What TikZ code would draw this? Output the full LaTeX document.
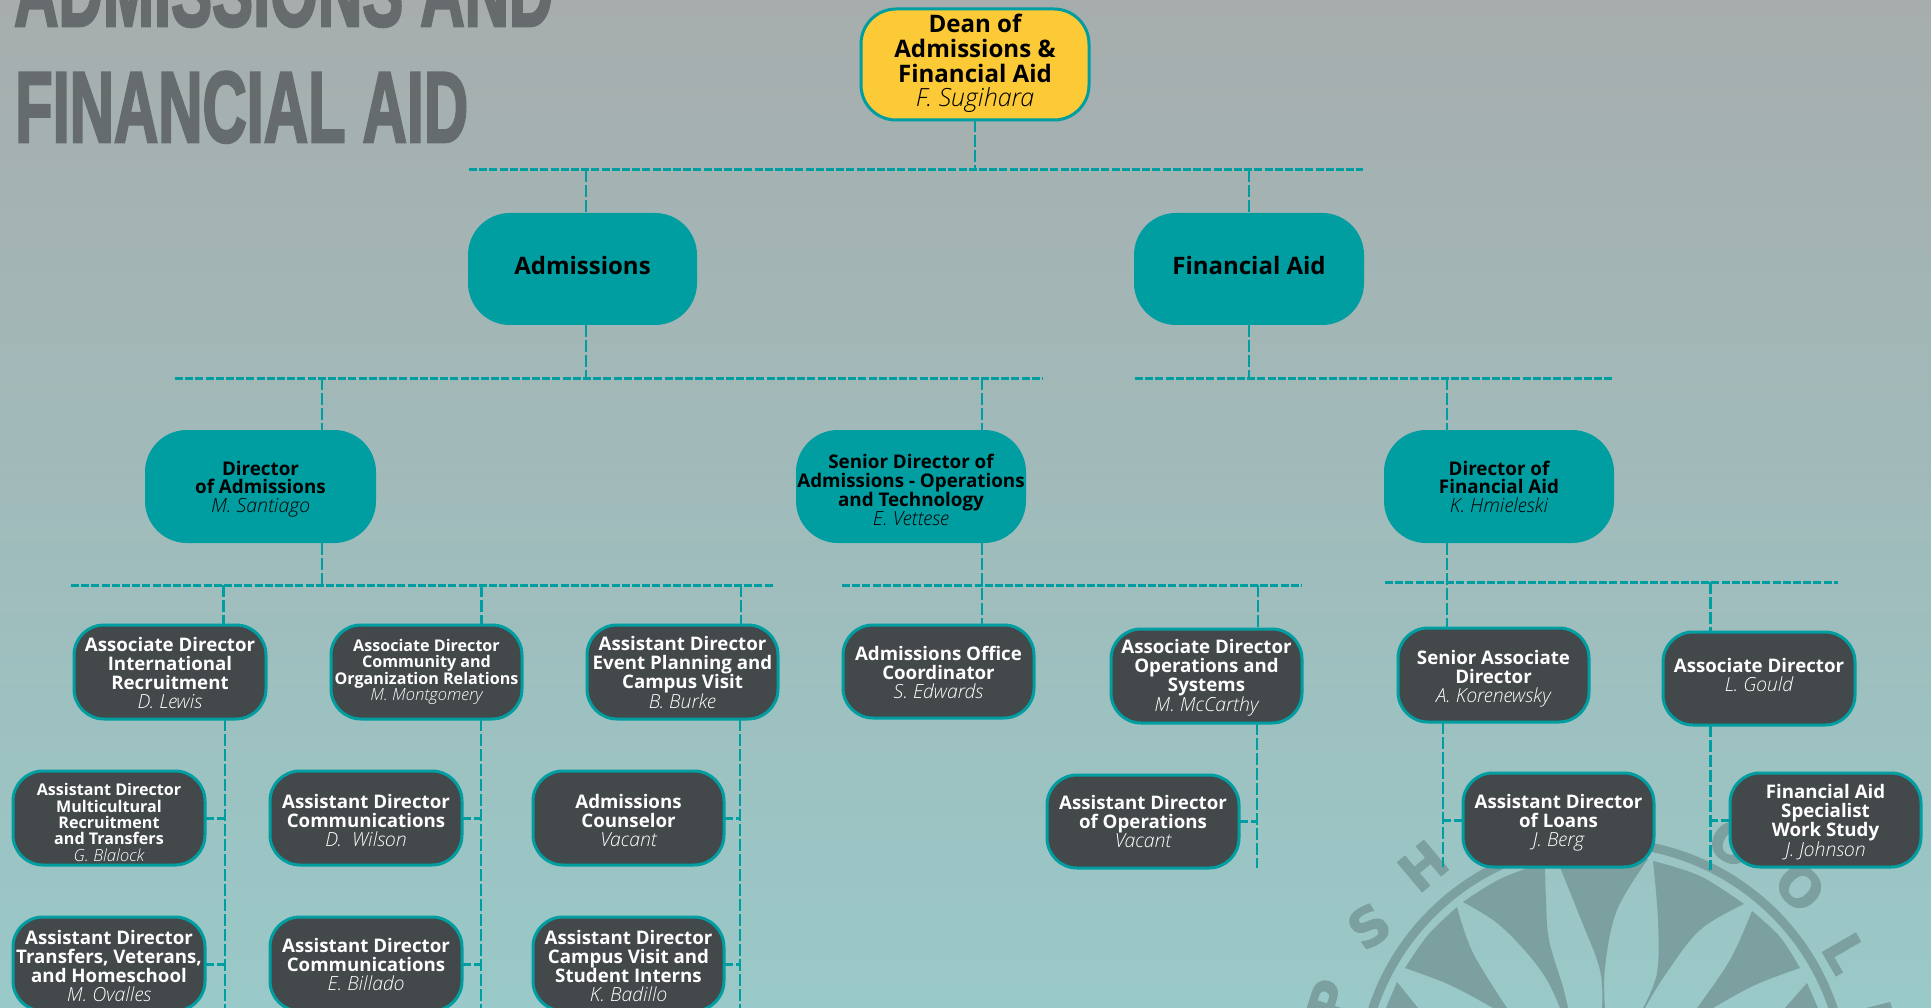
\documentclass[tikz,border=0pt]{standalone}
\usepackage{fontspec}
\setmainfont{Open Sans}[ItalicFont={Open Sans Light Italic},ItalicFeatures={Scale=1.04}]
\newfontfamily\titlefont{Liberation Sans Bold}[FakeBold=3]
\newfontfamily\sealfont{DejaVu Sans Bold}[FakeBold=1.5]
\definecolor{bgtop}{RGB}{167,173,173}
\definecolor{bgbot}{RGB}{153,201,200}
\definecolor{tealc}{RGB}{0,157,161}
\definecolor{darkc}{RGB}{67,72,75}
\definecolor{goldc}{RGB}{252,202,54}
\definecolor{sealc}{RGB}{124,159,159}
\definecolor{titlec}{RGB}{102,108,110}
\tikzset{
  x=1pt,y=-1pt,
  basebox/.style={rectangle,align=center,inner sep=0pt,outer sep=0pt,text centered},
  deanbox/.style={basebox,draw=tealc,line width=3pt,fill=goldc,rounded corners=35pt,text=black,font=\fontsize{24.1}{24.7}\selectfont\bfseries},
  unitbox/.style={basebox,fill=tealc,rounded corners=42pt,text=black,font=\fontsize{24}{24}\selectfont\bfseries},
  dirbox/.style={basebox,fill=tealc,rounded corners=42pt,text=black,font=\fontsize{18.8}{18.5}\selectfont\bfseries},
  staffbox/.style={basebox,draw=tealc,line width=3pt,fill=darkc,rounded corners=30pt,text=white,font=\fontsize{18.7}{19}\selectfont\bfseries},
  smallbox/.style={staffbox,font=\fontsize{16.1}{16.3}\selectfont\bfseries},
  hbar/.style={draw=tealc,line width=3pt,dash pattern=on 8pt off 2.2pt},
  vbar/.style={draw=tealc,line width=2.5pt,dash pattern=on 12pt off 3pt},
  stub/.style={draw=tealc,line width=3pt,dash pattern=on 9pt off 3pt},
  seal/.style={fill=sealc,draw=none},
  sealtext/.style={text=sealc,inner sep=0pt,font=\sealfont\fontsize{53}{53}\selectfont},
}
\newcommand{\nm}[1]{{\mdseries\itshape #1}}
% move a box's text down or up by making its first line taller or its last line deeper
\newcommand{\dn}[1]{\rule{0pt}{\dimexpr\fontcharht\font`d+2\dimexpr#1pt\relax\relax}}
\newcommand{\up}[1]{\rule[-\dimexpr\fontchardp\font`g+2\dimexpr#1pt\relax\relax]{0pt}{0pt}}
\newcommand{\obox}[7]{%
  \pgfmathsetmacro\cxx{(#3+#5)/2}\pgfmathsetmacro\cyy{(#4+#6)/2}%
  \pgfmathsetmacro\www{#5-#3}\pgfmathsetmacro\hhh{#6-#4}%
  \node[#1,minimum width=\www pt,minimum height=\hhh pt] (#2) at (\cxx,\cyy) {#7};}
\begin{document}
\begin{tikzpicture}
\useasboundingbox (0,0) rectangle (1931,1008);
\clip (0,0) rectangle (1931,1008);
\shade[top color=bgtop,bottom color=bgbot,middle color=bgtop!50!bgbot] (0,0) rectangle (1931,1008);

% seal
\draw[draw=sealc,line width=9pt] (1603,1085) circle [radius=242.5];
\fill[seal] plot[smooth,tension=.6] coordinates {(1463,902)(1500,879)(1545,862)} -- plot[smooth,tension=.6] coordinates {(1545,862)(1546,900)(1549,940)(1563,987)(1568,1008)} -- plot[smooth,tension=.6] coordinates {(1560,1008)(1547,980)(1527,953)(1497,923)(1463,902)} -- cycle;
\fill[seal] plot[smooth,tension=.6] coordinates {(1457,907)(1428,935)(1405,968)} -- plot[smooth,tension=.6] coordinates {(1405,968)(1450,985)(1493,1008)} -- plot[smooth,tension=.6] coordinates {(1507,1008)(1473,953)(1457,907)} -- cycle;
\fill[seal] (1397,982) -- (1386,1008) -- (1418,1008) -- cycle;
\fill[seal] plot[smooth,tension=.6] coordinates {(1557,860)(1603,855)(1648,859)} -- plot[smooth,tension=.6] coordinates {(1648,859)(1617,910)(1605,967)(1605,1008)} -- plot[smooth,tension=.6] coordinates {(1602,1008)(1600,970)(1580,917)(1557,860)} -- cycle;
\fill[seal] plot[smooth,tension=.6] coordinates {(1653,861)(1700,876)(1744,904)} -- plot[smooth,tension=.6] coordinates {(1744,904)(1700,930)(1665,975)(1645,1008)} -- plot[smooth,tension=.6] coordinates {(1643,1008)(1657,973)(1658,920)(1653,861)} -- cycle;
\fill[seal] plot[smooth,tension=.6] coordinates {(1752,911)(1780,937)(1800,968)} -- plot[smooth,tension=.6] coordinates {(1800,968)(1755,985)(1713,1008)} -- plot[smooth,tension=.6] coordinates {(1697,1008)(1730,960)(1752,911)} -- cycle;
\fill[seal] (1807,983) -- (1818,1008) -- (1785,1008) -- cycle;
\fill[seal] (1866,1008) -- (1890,1002) -- (1892,1008) -- cycle;
\node[sealtext,rotate=72] (sp) at (1330,1000) {P};
\node[sealtext,rotate=34] (ss) at (1369,926) {S};
\node[sealtext,rotate=40] (sh) at (1423,866) {H};
\node[sealtext,rotate=-30] (so1) at (1733,843) {O};
\node[sealtext,rotate=-45] (so2) at (1800,887) {O};
\node[sealtext,rotate=-60] (sl) at (1845,953) {L};

% title
\node[anchor=south west,inner sep=0pt,text=titlec] (t1) at (14,27) {\resizebox{539pt}{70pt}{\titlefont ADMISSIONS AND}};
\node[anchor=south west,inner sep=0pt,text=titlec] (t2) at (15,143) {\resizebox{453pt}{70pt}{\titlefont FINANCIAL AID}};

% boxes
\obox{deanbox}{dean}{861}{9}{1089}{120}{Dean of\\Admissions \&\\Financial Aid\\\up{1}\nm{F. Sugihara}}
\obox{unitbox}{adm}{468}{213}{697}{325}{\up{.8}Admissions}
\obox{unitbox}{fin}{1134}{213}{1364}{325}{\up{.8}Financial Aid}
\obox{dirbox}{dira}{145}{430}{376}{543}{\dn{2.4}Director\\of Admissions\\\nm{M. Santiago}}
\obox{dirbox}{sdir}{796}{430}{1026}{543}{\dn{3.5}Senior Director of\\Admissions - Operations\\and Technology\\\nm{E. Vettese}}
\obox{dirbox}{dirf}{1384}{430}{1614}{543}{Director of\\Financial Aid\\\nm{K. Hmieleski}}

\obox{staffbox}{lewis}{74}{625}{266}{719}{\dn{1.2}Associate Director\\International\\Recruitment\\\nm{D. Lewis}}
\obox{smallbox}{mont}{331}{625}{522}{719}{Associate Director\\Community and\\Organization Relations\\\nm{M. Montgomery}}
\obox{staffbox}{burke}{587}{625}{778}{719}{\dn{.6}Assistant Director\\Event Planning and\\Campus Visit\\\nm{B. Burke}}
\obox{staffbox}{edw}{843}{625}{1034}{718}{\dn{.6}Admissions Office\\Coordinator\\\nm{S. Edwards}}
\obox{staffbox}{mcc}{1111}{629}{1302}{723}{\dn{1.8}Associate Director\\Operations and\\Systems\\\nm{M. McCarthy}}
\obox{staffbox}{kor}{1398}{628}{1589}{722}{\dn{3.6}Senior Associate\\Director\\\nm{A. Korenewsky}}
\obox{staffbox}{gould}{1663}{632}{1855}{725}{Associate Director\\\up{1}\nm{L. Gould}}

\obox{smallbox}{blal}{13}{771}{205}{865}{\dn{4.5}Assistant Director\\Multicultural\\Recruitment\\and Transfers\\\nm{G. Blalock}}
\obox{staffbox}{wil}{270}{771}{462}{865}{\dn{2.6}Assistant Director\\Communications\\\nm{D.\ \ Wilson}}
\obox{staffbox}{couns}{533}{771}{724}{865}{\dn{2.6}Admissions\\Counselor\\\nm{Vacant}}
\obox{staffbox}{aops}{1047}{775}{1239}{868}{Assistant Director\\of Operations\\\nm{Vacant}}
\obox{staffbox}{berg}{1463}{773}{1654}{867}{\dn{2.4}Assistant Director\\of Loans\\\nm{J. Berg}}
\obox{staffbox}{john}{1730}{773}{1921}{867}{\dn{2.4}Financial Aid\\Specialist\\Work Study\\\nm{J. Johnson}}

\obox{staffbox}{oval}{13}{917}{205}{1011}{\dn{1.6}Assistant Director\\Transfers, Veterans,\\and Homeschool\\\nm{M. Ovalles}}
\obox{staffbox}{bill}{270}{917}{462}{1011}{Assistant Director\\Communications\\\nm{E. Billado}}
\obox{staffbox}{bad}{533}{917}{724}{1011}{\dn{1.6}Assistant Director\\Campus Visit and\\Student Interns\\\nm{K. Badillo}}

% bars: ends and junctions
\coordinate (b1l) at (469,170); \coordinate (b1r) at (1363,170);
\coordinate (b2l) at (175,378); \coordinate (b2r) at (1043,378);
\coordinate (b3l) at (1135,378); \coordinate (b3r) at (1612,378);
\coordinate (b4l) at (71,585); \coordinate (b4r) at (774,585);
\coordinate (b5l) at (842,585); \coordinate (b5r) at (1302,585);
\coordinate (b6l) at (1385,582); \coordinate (b6r) at (1838,582);
\draw[hbar] (b1l) -- (b1r);
\draw[hbar] (b2l) -- (b2r);
\draw[hbar] (b3l) -- (b3r);
\draw[hbar] (b4l) -- (b4r);
\draw[hbar] (b5l) -- (b5r);
\draw[hbar] (b6l) -- (b6r);

\coordinate (j1a) at (586,170); \coordinate (j1b) at (1249,170);
\coordinate (j2a) at (322,378); \coordinate (j2b) at (982,378); \coordinate (j2c) at (586,378);
\coordinate (j3a) at (1447,378); \coordinate (j3b) at (1249,378);
\coordinate (j4a) at (223.5,585); \coordinate (j4b) at (481.5,585); \coordinate (j4c) at (741,585); \coordinate (j4d) at (322,585);
\coordinate (j5a) at (982,585); \coordinate (j5b) at (1258,585);
\coordinate (j6a) at (1447,582); \coordinate (j6b) at (1710.5,582);

\draw[vbar] (dean.south) -- (dean.south |- b1l);
\draw[vbar] (j1a) -- (j1a |- adm.north);
\draw[vbar] (j1b) -- (j1b |- fin.north);
\draw[vbar] (adm.south -| j2c) -- (j2c);
\draw[vbar] (fin.south -| j3b) -- (j3b);
\draw[vbar] (j2a) -- (j2a |- dira.north);
\draw[vbar] (j2b) -- (j2b |- sdir.north);
\draw[vbar] (j3a) -- (j3a |- dirf.north);
\draw[vbar] (dira.south -| j4d) -- (j4d);
\draw[vbar] (sdir.south -| j5a) -- (j5a |- edw.north);
\draw[vbar] (dirf.south -| j6a) -- (j6a |- kor.north);
\draw[vbar] (j4a) -- (j4a |- lewis.north);
\draw[vbar] (j4b) -- (j4b |- mont.north);
\draw[vbar] (j4c) -- (j4c |- burke.north);
\draw[vbar] (j5b) -- (j5b |- mcc.north);
\draw[vbar] (j6b) -- (j6b |- gould.north);

% lower stems
\coordinate (e1) at (225,1008); \coordinate (e2) at (481,1008); \coordinate (e3) at (740,1008);
\coordinate (e4) at (1257,868); \coordinate (e5) at (1443,867); \coordinate (e6) at (1710.5,870);
\draw[vbar] (lewis.south -| e1) -- (e1);
\draw[vbar] (mont.south -| e2) -- (e2);
\draw[vbar] (burke.south -| e3) -- (e3);
\draw[vbar] (mcc.south -| e4) -- (e4);
\draw[vbar] (kor.south -| e5) -- (e5);
\draw[vbar] (gould.south -| e6) -- (e6);
\draw[stub] (blal.east) -- (blal.east -| e1);
\draw[stub] (oval.east) -- (oval.east -| e1);
\draw[stub] (wil.east) -- (wil.east -| e2);
\draw[stub] (bill.east) -- (bill.east -| e2);
\draw[stub] (couns.east) -- (couns.east -| e3);
\draw[stub] (bad.east) -- (bad.east -| e3);
\draw[stub] (aops.east) -- (aops.east -| e4);
\draw[stub] (berg.west) -- (berg.west -| e5);
\draw[stub] (john.west) -- (john.west -| e6);
\end{tikzpicture}
\end{document}
